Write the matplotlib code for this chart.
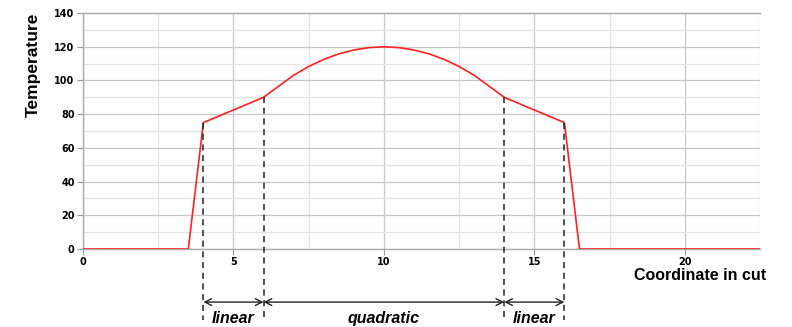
import matplotlib
matplotlib.use("Agg")
import matplotlib.pyplot as plt
import matplotlib.transforms as mtransforms

# temperature profile along the cut
coord = [0, 3.5, 4, 6, 6.5, 7, 7.5, 8, 8.5, 9, 9.5, 10,
         10.5, 11, 11.5, 12, 12.5, 13, 13.5, 14, 16, 16.5, 22.5]
temp = [0, 0, 75, 90, 96.6, 103.1, 108.3, 112.5, 115.8, 118.1, 119.5, 120,
        119.5, 118.1, 115.8, 112.5, 108.3, 103.1, 96.6, 90, 75, 0, 0]

# segment boundaries and their temperatures
bounds = [4, 6, 14, 16]
bound_temp = [75, 90, 90, 75]
segment_labels = ["linear", "quadratic", "linear"]

label_font = "Liberation Sans"

fig = plt.figure(figsize=(7.92, 3.27), dpi=100)
ax = fig.add_axes([0.1048, 0.2385, 0.8548, 0.7215])

ax.plot(coord, temp, color="#ff2020", lw=1.2, zorder=3)

ax.set_xlim(0, 22.5)
ax.set_ylim(0, 140)
ax.set_xticks([0, 5, 10, 15, 20])
ax.set_xticks([2.5, 7.5, 12.5, 17.5, 22.5], minor=True)
ax.set_yticks(range(0, 141, 20))
ax.set_yticks(range(10, 140, 20), minor=True)
ax.grid(which="major", color="#c8c8c8", lw=0.9)
ax.grid(which="minor", color="#e4e4e4", lw=0.9)
ax.tick_params(which="major", labelsize=7, length=4, color="#999999", pad=2)
ax.tick_params(which="minor", length=0)
for lab in ax.get_xticklabels() + ax.get_yticklabels():
    lab.set_fontweight("bold")

ax.spines["right"].set_visible(False)
for side in ["top", "left", "bottom"]:
    ax.spines[side].set_color("#aaaaaa")
    ax.spines[side].set_linewidth(1.0)

ax.set_ylabel("Temperature", fontsize=12.5, fontweight="bold", family=label_font,
              loc="top", labelpad=10)
fig.text(0.884, 0.157, "Coordinate in cut", fontsize=11.5, fontweight="bold",
         family=label_font, ha="center", va="center")

trans = mtransforms.blended_transform_factory(ax.transData, ax.transAxes)

# dashed boundary lines, from the curve down below the axis
for xb, tb in zip(bounds, bound_temp):
    ax.plot([xb, xb], [tb / 140.0, -0.30], transform=trans, color="#222222",
            lw=1.1, ls=(0, (4, 3)), clip_on=False, zorder=4)

# double arrows with labels
for i, lab in enumerate(segment_labels):
    x0, x1 = bounds[i], bounds[i + 1]
    ax.annotate("", xy=(x1, -0.225), xytext=(x0, -0.225),
                xycoords=trans, textcoords=trans,
                arrowprops=dict(arrowstyle="<->", color="#222222", lw=1.0,
                                shrinkA=0, shrinkB=0,
                                mutation_scale=12))
    ax.text((x0 + x1) / 2, -0.295, lab, transform=trans, ha="center",
            va="center", fontsize=11.5, fontweight="bold", fontstyle="italic",
            family=label_font)

fig.savefig("out.png", dpi=100)
